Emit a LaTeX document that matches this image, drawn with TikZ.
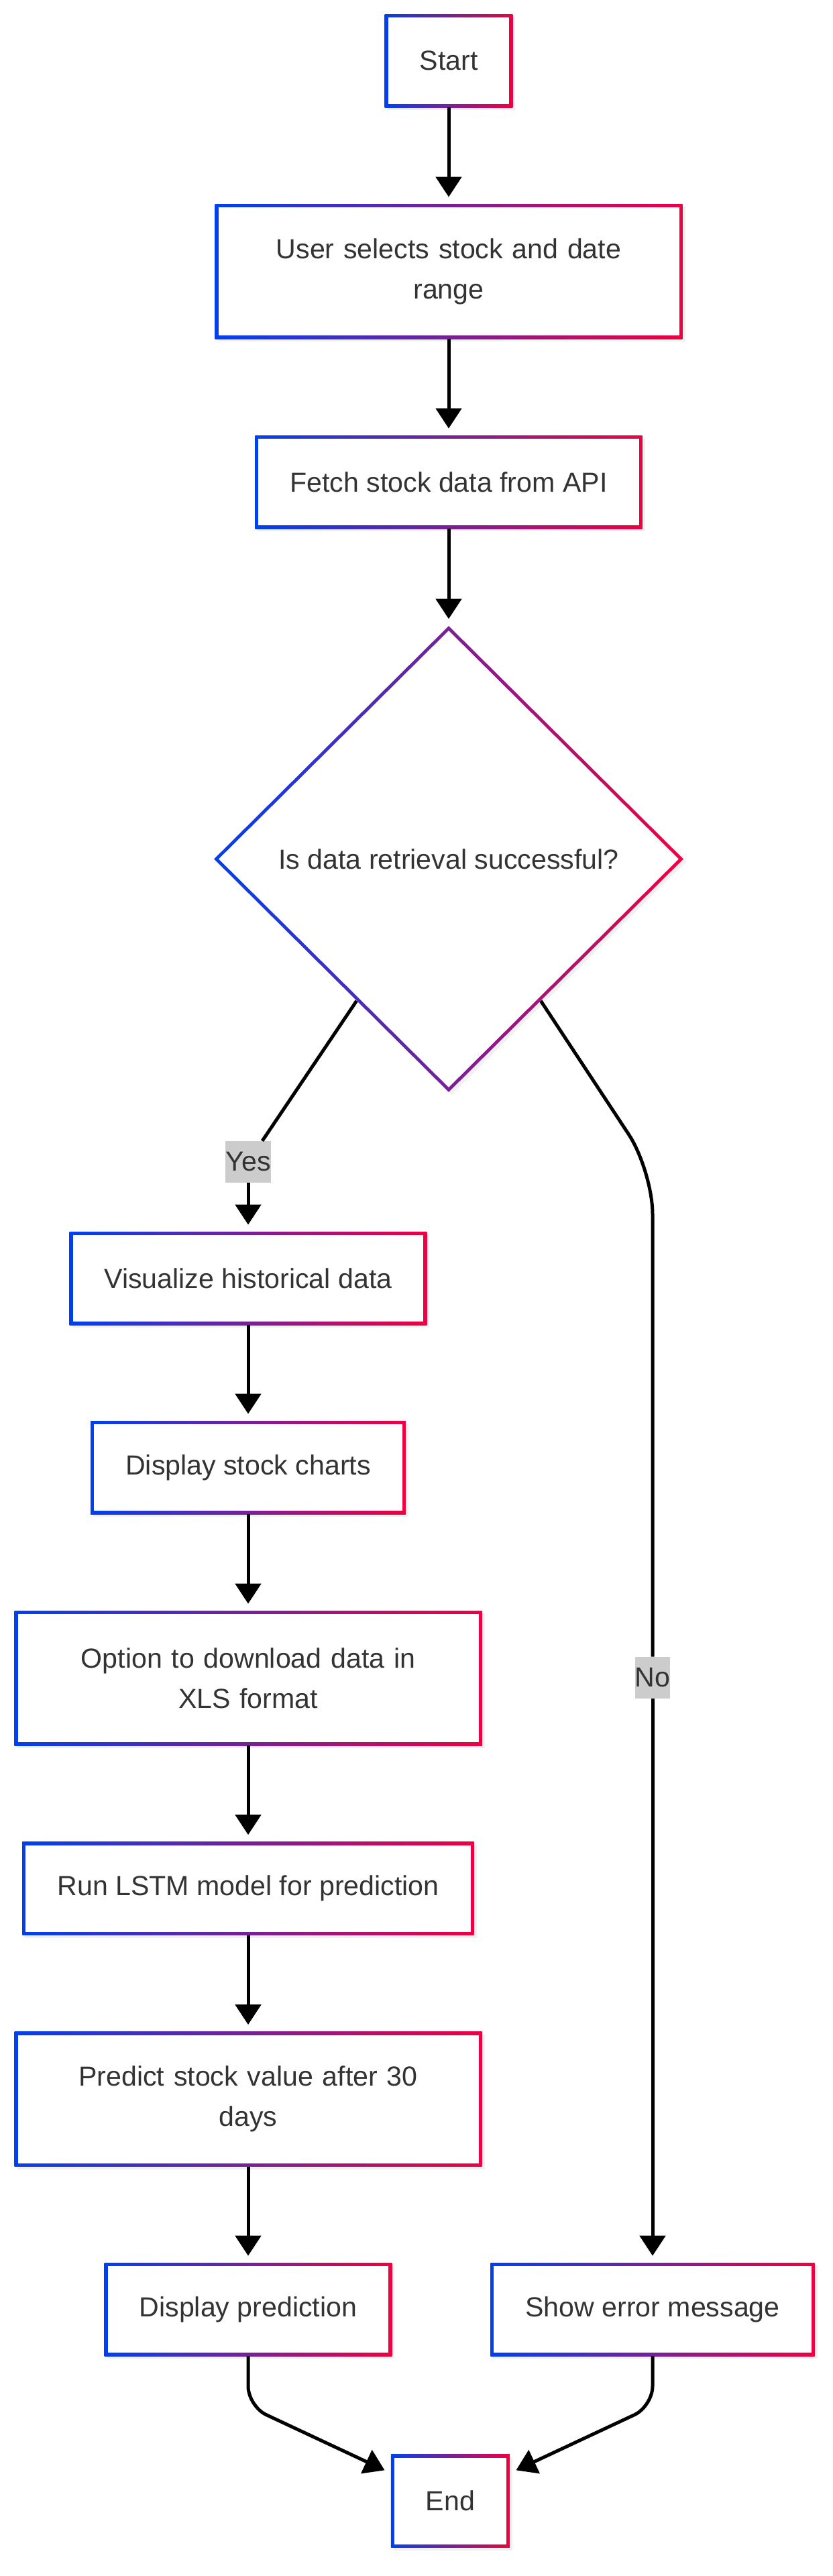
\documentclass[tikz,border=0pt]{standalone}
\usepackage{fontspec}
\setmainfont{Liberation Sans}
\usepackage{tikz}
\usetikzlibrary{shapes.geometric, arrows.meta, shadows}
\definecolor{edgeblue}{RGB}{0, 64, 240}
\definecolor{edgered}{RGB}{240, 0, 64}
\definecolor{textgray}{RGB}{51, 51, 51}
\definecolor{labelgray}{RGB}{204, 204, 204}

\begin{document}
\begin{tikzpicture}[
        font=\fontsize{23.4}{34.2}\selectfont,
        process/.style={rectangle, inner xsep=1.04cm, inner ysep=0pt, minimum height=2.78cm, left color=edgeblue, right color=edgered, text=textgray, drop shadow={opacity=0.12, shadow xshift=0.08cm, shadow yshift=-0.08cm}, path picture={\fill[white] ([shift={(0.1cm,-0.1cm)}]path picture bounding box.north west) rectangle ([shift={(-0.1cm,0.1cm)}]path picture bounding box.south east);}},
        wideprocess/.style={process, text width=11.86cm, align=center, minimum height=4.02cm},
        decision/.style={diamond, aspect=1, inner sep=0pt, minimum width=14cm, minimum height=13.9cm, left color=edgeblue, right color=edgered, text=textgray, drop shadow={opacity=0.12, shadow xshift=0.08cm, shadow yshift=-0.08cm}, path picture={\fill[white] ([yshift=-0.14cm]path picture bounding box.north) -- ([xshift=-0.14cm]path picture bounding box.east) -- ([yshift=0.14cm]path picture bounding box.south) -- ([xshift=0.14cm]path picture bounding box.west) -- cycle;}},
        edgelabel/.style={rectangle, fill=labelgray, text=textgray, inner xsep=0pt, inner ysep=0pt, minimum height=1.24cm},
        connector/.style={line width=0.1cm, black},
        flow/.style={connector, -{Triangle[width=0.76cm, length=0.6cm]}, shorten >=0.2cm}
    ]
    \useasboundingbox (0, 0) rectangle (24.82, -76.8);

    % Main column
    \node[process] (start) at (13.38, -1.81) {Start};
    \node[wideprocess] (select) at (13.38, -8.09) {User selects stock and date\\ range};
    \node[process] (fetch) at (13.38, -14.37) {Fetch stock data from API};
    \node[decision] (check) at (13.38, -25.61) {Is data retrieval successful?};

    % Yes branch
    \node[edgelabel] (yes) at (7.40, -34.64) {Yes};
    \node[process] (visual) at (7.40, -38.11) {Visualize historical data};
    \node[process] (charts) at (7.40, -43.75) {Display stock charts};
    \node[wideprocess] (download) at (7.40, -50.03) {Option to download data in\\ XLS format};
    \node[process] (lstm) at (7.40, -56.30) {Run LSTM model for prediction};
    \node[wideprocess] (predict) at (7.40, -62.58) {Predict stock value after 30\\ days};
    \node[process] (showpred) at (7.40, -68.85) {Display prediction};

    % No branch
    \node[edgelabel] (no) at (19.46, -50.02) {No};
    \node[process] (error) at (19.46, -68.85) {Show error message};

    \node[process] (finish) at (13.43, -74.56) {End};

    % Bends
    \coordinate (nocorner) at (19.46, -34.90);
    \coordinate (leftcorner) at (7.40, -71.74);
    \coordinate (rightcorner) at (19.46, -71.74);

    % Flows - main column
    \draw[flow] (start) -- (select);
    \draw[flow] (select) -- (fetch);
    \draw[flow] (fetch) -- (check);

    % Flows - Yes
    \draw[connector] (check.237) -- (yes);
    \draw[flow] (yes) -- (visual);
    \draw[flow] (visual) -- (charts);
    \draw[flow] (charts) -- (download);
    \draw[flow] (download) -- (lstm);
    \draw[flow] (lstm) -- (predict);
    \draw[flow] (predict) -- (showpred);

    % Flows - No
    \draw[connector, rounded corners=1.3cm] (check.303) -- (nocorner) -- (no);
    \draw[flow] (no) -- (error);

    % Flows - to End
    \draw[flow, rounded corners=0.6cm] (showpred) -- (leftcorner) -- (finish);
    \draw[flow, rounded corners=0.6cm] (error) -- (rightcorner) -- (finish);

\end{tikzpicture}
\end{document}
